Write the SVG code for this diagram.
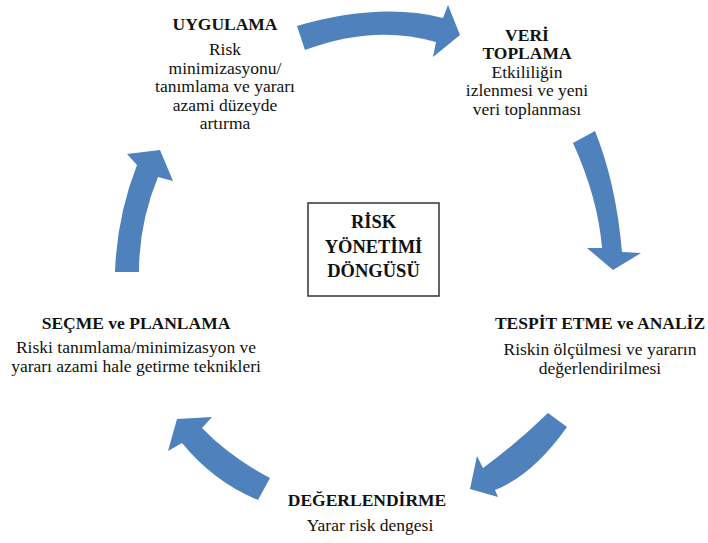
<svg xmlns="http://www.w3.org/2000/svg" width="708" height="543" viewBox="0 0 708 543">
<style>
.h{font-family:"Liberation Serif","Times New Roman",serif;font-weight:bold;font-size:17.5px;fill:#111;text-anchor:middle}
.b{font-family:"Liberation Serif","Times New Roman",serif;font-size:17.5px;fill:#111;text-anchor:middle}
.c{font-family:"Liberation Serif","Times New Roman",serif;font-weight:bold;font-size:18.5px;fill:#111;text-anchor:middle}
.arr{fill:#4f81bd;stroke:none}
</style>
<rect width="708" height="543" fill="#fff"/>
<g id="connectors">
<path class="arr" d="M297,26 Q380,2 443,18 L448,5 L460,35 L433,57 L436,42 Q374,24 305,50 Z"/>
<path class="arr" d="M595,131 Q616,183 622,252 L641,253 L613,270 L587,248 L602,248 Q598,198 573,143 Z"/>
<path class="arr" d="M548,413 Q516,444 483,468 L477,456 L470,489 L498,497 L495,490 Q533,475 567,427 Z"/>
<path class="arr" d="M270,478 Q230,457 202,428 L212,417 L177,419 L168,451 L182,443 Q214,482 258,500 Z"/>
<path class="arr" d="M115,272 Q117,216 137,165 L127,154 L160,150 L173,181 L158,177 Q139,223 139,272 Z"/>
</g>
<g id="center">
<rect x="308" y="203" width="131" height="93" fill="#fff" stroke="#333" stroke-width="1.5"/>
<text class="c" x="373.5" y="228">RİSK</text>
<text class="c" x="373.5" y="253">YÖNETİMİ</text>
<text class="c" x="373.5" y="277">DÖNGÜSÜ</text>
</g>
<g id="uygulama">
<text class="h" x="225" y="30">UYGULAMA</text>
<text class="b" x="225" y="55">Risk</text>
<text class="b" x="225" y="73.5">minimizasyonu/</text>
<text class="b" x="225" y="92">tanımlama ve yararı</text>
<text class="b" x="225" y="110.5">azami düzeyde</text>
<text class="b" x="225" y="129">artırma</text>
</g>
<g id="veri">
<text class="h" x="527" y="40.5">VERİ</text>
<text class="h" x="527" y="59">TOPLAMA</text>
<text class="b" x="527" y="77.5">Etkililiğin</text>
<text class="b" x="527" y="96">izlenmesi ve yeni</text>
<text class="b" x="527" y="114.5">veri toplanması</text>
</g>
<g id="tespit">
<text class="h" x="600" y="329">TESPİT ETME ve ANALİZ</text>
<text class="b" x="600" y="354.5">Riskin ölçülmesi ve yararın</text>
<text class="b" x="600" y="373.5">değerlendirilmesi</text>
</g>
<g id="degerlendirme">
<text class="h" x="367" y="506">DEĞERLENDİRME</text>
<text class="b" x="370" y="531">Yarar risk dengesi</text>
</g>
<g id="secme">
<text class="h" x="136" y="329">SEÇME ve PLANLAMA</text>
<text class="b" x="136" y="353">Riski tanımlama/minimizasyon ve</text>
<text class="b" x="136" y="371.5">yararı azami hale getirme teknikleri</text>
</g>
</svg>
